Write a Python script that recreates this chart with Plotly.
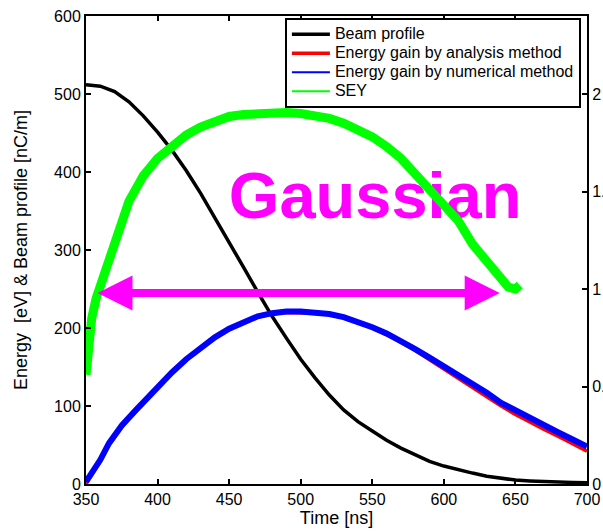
import plotly.graph_objects as go

# ---- data ----
t_beam = [350, 360, 370, 380, 390, 400, 410, 420, 430, 440, 450, 460, 470, 480, 490, 500,
          510, 520, 530, 540, 550, 560, 570, 580, 590, 600, 610, 620, 630, 640, 650, 660,
          670, 680, 690, 700]
beam = [512, 510, 503, 490, 472, 451, 428, 402, 373, 342, 310, 278, 246, 215, 187, 160,
        136, 114, 95, 80, 68, 56, 46, 37, 29, 23, 18, 14, 10, 7, 5, 4, 3, 2.5, 2, 1.5]

t_en = [350, 354, 360, 366, 375, 385, 400, 410, 420, 430, 440, 450, 460, 470, 480, 490,
        500, 510, 520, 530, 540, 550, 560, 570, 580, 590, 600, 610, 620, 630, 640, 650,
        660, 670, 680, 690, 700]
energy_num = [3, 14, 31, 52, 75, 95, 125, 143, 160, 174, 188, 199, 208, 215, 219, 221,
              221, 220, 218, 214, 208, 201, 193, 184, 173, 162, 151, 140, 128, 117, 104, 94,
              84, 75, 66, 57, 48]
energy_ana = [0, 12, 29, 50, 73, 94, 124, 142, 159, 173, 187, 198, 207, 214, 218, 220,
              220, 219, 217, 213, 207, 200, 191, 182, 171, 159, 148, 136, 124, 112, 100, 89,
              79, 70, 61, 51, 42]

t_sey = [350, 352, 354, 357, 360, 365, 370, 375, 380, 390, 400, 410, 420, 430, 440, 450,
         460, 470, 480, 490, 500, 510, 520, 530, 540, 550, 560, 570, 580, 590, 600, 610,
         620, 630, 640, 645, 650, 653]
sey = [0.56, 0.72, 0.85, 0.95, 1.02, 1.12, 1.24, 1.36, 1.45, 1.58, 1.67, 1.73, 1.79, 1.83,
       1.86, 1.885, 1.895, 1.90, 1.905, 1.905, 1.90, 1.89, 1.875, 1.85, 1.82, 1.78, 1.73,
       1.67, 1.59, 1.51, 1.44, 1.35, 1.23, 1.14, 1.05, 1.01, 1.0, 1.02]

series_names = ["Beam profile", "Energy gain by analysis method",
                "Energy gain by numerical method", "SEY"]

x_ticks = [350, 400, 450, 500, 550, 600, 650, 700]
y_ticks = [0, 100, 200, 300, 400, 500, 600]
y2_ticks = [0, 0.5, 1, 1.5, 2]

arrow_t = [357, 639]
arrow_sey = 0.98
label_t, label_e = 552, 362

BLACK = "#000000"
RED = "#ff0000"
BLUE = "#0000ff"
GREEN = "#00ff00"
MAGENTA = "#ff00ff"
FONT = "Liberation Sans, Arial, sans-serif"


def lg(name):
    # legend text drawn at 16px inside a compact (12px-spaced) legend
    return '<span style="font-size:16px">' + name + '</span>'


fig = go.Figure()

# Gaussian label under the curves
fig.add_trace(go.Scatter(x=[label_t], y=[label_e], mode="text", text=["<b>Gaussian</b>"],
                         textfont=dict(size=65, color=MAGENTA, family=FONT),
                         showlegend=False, hoverinfo="skip"))

fig.add_trace(go.Scatter(x=t_beam, y=beam, mode="lines", name=lg(series_names[0]),
                         line=dict(color=BLACK, width=3.5), legendrank=1))
fig.add_trace(go.Scatter(x=t_en, y=energy_ana, mode="lines", name=lg(series_names[1]),
                         line=dict(color=RED, width=3.5), legendrank=2))
fig.add_trace(go.Scatter(x=t_en, y=energy_num, mode="lines", showlegend=False,
                         name=series_names[2], line=dict(color=BLUE, width=6)))
fig.add_trace(go.Scatter(x=t_sey, y=sey, mode="lines", showlegend=False, yaxis="y2",
                         name=series_names[3], line=dict(color=GREEN, width=9)))
# legend-only samples (thin lines as in the reference legend)
fig.add_trace(go.Scatter(x=[None], y=[None], mode="lines", name=lg(series_names[2]),
                         line=dict(color=BLUE, width=2), legendrank=3))
fig.add_trace(go.Scatter(x=[None], y=[None], mode="lines", name=lg(series_names[3]),
                         line=dict(color=GREEN, width=2), legendrank=4))

fig.add_annotation(x=arrow_t[1], y=arrow_sey, ax=arrow_t[0], ay=arrow_sey,
                   xref="x", yref="y2", axref="x", ayref="y2", text="",
                   showarrow=True, arrowside="end+start", arrowhead=2, startarrowhead=2,
                   arrowwidth=8, arrowsize=0.875, startarrowsize=0.875, arrowcolor=MAGENTA)

axis_common = dict(showgrid=False, zeroline=False, ticks="inside", ticklen=5, tickwidth=1.5,
                   tickcolor=BLACK, linecolor=BLACK, linewidth=2, showline=True, automargin=False,
                   tickfont=dict(size=16, color=BLACK, family=FONT))

fig.update_layout(
    width=603, height=531,
    margin=dict(l=86, r=16, t=16, b=47),
    paper_bgcolor="white", plot_bgcolor="white",
    font=dict(family=FONT, color=BLACK),
    xaxis=dict(range=[350, 700], tickvals=x_ticks, mirror="ticks",
               title=dict(text="Time [ns]", font=dict(size=18, color=BLACK, family=FONT), standoff=2),
               **axis_common),
    yaxis=dict(range=[0, 600], tickvals=y_ticks, mirror=True,
               title=dict(text="Energy\u00a0 [eV] & Beam profile [nC/m]",
                          font=dict(size=18, color=BLACK, family=FONT), standoff=22),
               **axis_common),
    yaxis2=dict(range=[0, 2.4], tickvals=y2_ticks, overlaying="y", side="right",
                **axis_common),
    legend=dict(x=0.397, y=0.996, xanchor="left", yanchor="top", bgcolor="white",
                bordercolor=BLACK, borderwidth=2, font=dict(size=12, color=BLACK, family=FONT),
                tracegroupgap=0, itemwidth=38),
    showlegend=True,
)

fig.write_html("out.html")
